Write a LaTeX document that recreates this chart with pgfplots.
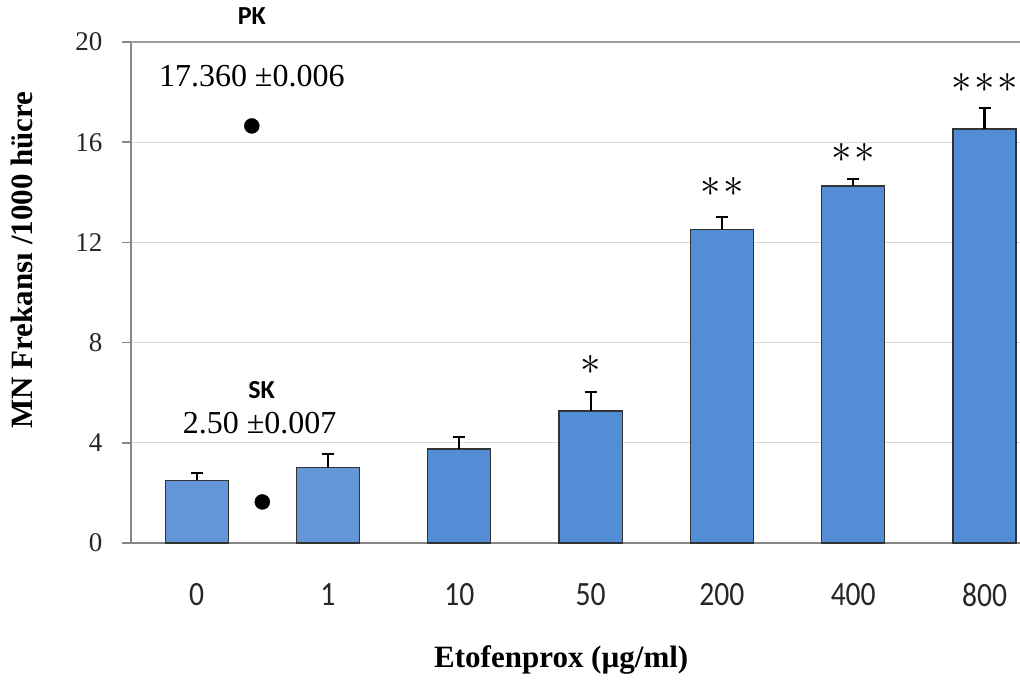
\documentclass[border=0pt]{standalone}
\usepackage{fontspec}
\setmainfont{Liberation Serif}
\newfontfamily\calib[FakeStretch=0.87]{Carlito}
\newfontfamily\calibb{Carlito}
\usepackage{pgfplots}
\pgfplotsset{compat=1.18}
\definecolor{barA}{RGB}{99,150,215}
\definecolor{barB}{RGB}{83,141,213}
\definecolor{gridc}{RGB}{217,217,217}
\definecolor{axisc}{RGB}{134,134,134}
\newcommand{\stars}[1]{\scalebox{1.65}{\fontsize{24bp}{26bp}\selectfont$#1$}}
\begin{document}
\begin{tikzpicture}
\useasboundingbox (0,0) rectangle (1020bp,684bp);
\begin{axis}[
  at={(131bp,141bp)}, anchor=south west,
  scale only axis, width=889bp, height=501bp,
  xmin=-0.5, xmax=6.27, ymin=0, ymax=20,
  clip=false,
  axis x line*=bottom, axis y line*=left,
  axis line style={axisc, line width=1.5bp},
  every outer x axis line/.append style={-}, every outer y axis line/.append style={-},
  ytick={0,4,...,20},
  ymajorgrids, y grid style={gridc, line width=1.3bp},
  tick align=outside,
  major tick length=9bp,
  tick style={axisc, line width=1.5bp},
  xtick={0,...,6},
  xticklabels={0,1,10,50,200,400,800},
  x tick style={draw=none},
  extra x ticks={-0.5,0.5,1.5,2.5,3.5,4.5,5.5},
  extra x tick labels={},
  extra x tick style={major tick length=11bp, tick style={axisc, line width=1.5bp}, grid=none},
  yticklabel style={font=\fontsize{27bp}{30bp}\selectfont, xshift=-16bp, text=black!85},
  xticklabel style={font=\calib\fontsize{34bp}{38bp}\selectfont, yshift=-28bp, text=black!85},
  /pgf/number format/assume math mode=true,
  ylabel={MN Frekansı /1000 hücre},
  ylabel style={font=\bfseries\fontsize{31bp}{34bp}\selectfont, at={(axis description cs:-0.1226,0.565)}, anchor=center, rotate=0},
  xlabel={Etofenprox (µg/ml)},
  xlabel style={font=\bfseries\fontsize{31bp}{34bp}\selectfont, at={(axis description cs:0.484,-0.2335)}, anchor=center},
]
\draw[axisc!80, line width=1.5bp] (axis cs:-0.5,20) -- (axis cs:6.27,20);
\addplot[ybar, bar shift=0pt, bar width=0.48, fill=barA, draw=black!80, line width=1.2bp,
  error bars/.cd, y dir=plus, y explicit,
  error bar style={line width=2.2bp, black},
  error mark options={rotate=90, mark size=6bp, line width=2.2bp, black}]
  coordinates {(0,2.50) +- (0,0.29) (1,3.00) +- (0,0.55)};
\addplot[ybar, bar shift=0pt, bar width=0.48, fill=barB, draw=black!80, line width=1.2bp,
  error bars/.cd, y dir=plus, y explicit,
  error bar style={line width=2.2bp, black},
  error mark options={rotate=90, mark size=6bp, line width=2.2bp, black}]
  coordinates {(2,3.75) +- (0,0.48) (3,5.27) +- (0,0.76) (4,12.50) +- (0,0.50) (5,14.25) +- (0,0.28) (6,16.53) +- (0,0.84)};
\addplot[only marks, mark=*, mark size=7.5bp, black] coordinates {(0.42,16.65) (0.5,1.64)};
\node[font=\calibb\bfseries\fontsize{26bp}{28bp}\selectfont] at (axis cs:0.42,21.04) {PK};
\node[font=\fontsize{32bp}{34bp}\selectfont] at (axis cs:0.42,18.64) {17.360 ±0.006};
\node[font=\calibb\bfseries\fontsize{26bp}{28bp}\selectfont] at (axis cs:0.495,6.11) {SK};
\node[font=\fontsize{32bp}{34bp}\selectfont] at (axis cs:0.48,4.79) {2.50 ±0.007};
\node at (axis cs:3,7.1) {\stars{{\ast}}};
\node at (axis cs:4,14.2) {\stars{{\ast}\mkern1mu{\ast}}};
\node at (axis cs:5,15.57) {\stars{{\ast}\mkern1mu{\ast}}};
\node at (axis cs:6,18.36) {\stars{{\ast}\mkern1mu{\ast}\mkern1mu{\ast}}};
\end{axis}
\end{tikzpicture}
\end{document}
